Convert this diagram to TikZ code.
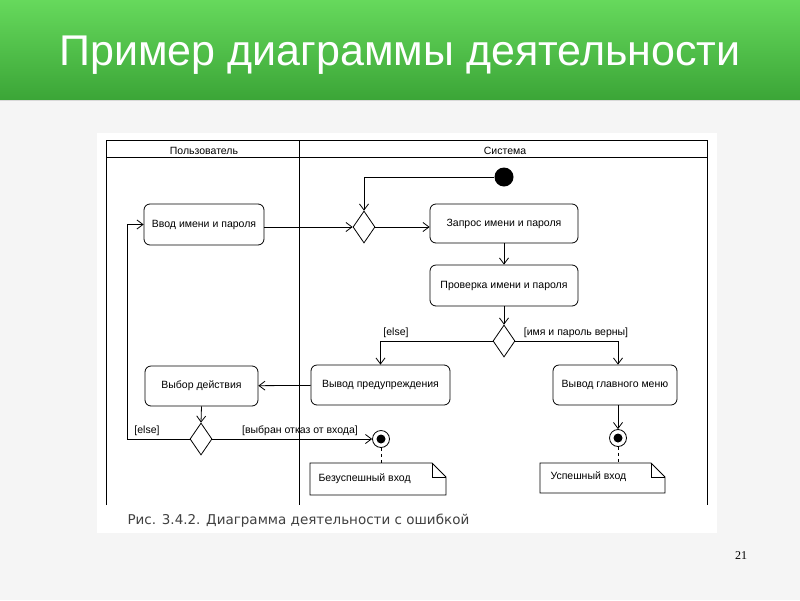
\documentclass[tikz,border=0pt]{standalone}
\usepackage{fontspec}
\setmainfont{Liberation Sans}
\newfontfamily\dvfont{DejaVu Sans}
\newfontfamily\serfont{Liberation Serif}
\usetikzlibrary{shapes.geometric,arrows.meta}
\definecolor{gtop}{HTML}{66D95C}
\definecolor{gbot}{HTML}{3BA537}
\begin{document}
\begin{tikzpicture}[x=1pt,y=-1pt,
  act/.style={draw,rounded corners=6pt,line width=0.8pt,font=\fontsize{10.5}{12}\selectfont,inner sep=0pt},
  dec/.style={draw,diamond,line width=0.8pt,minimum width=22pt,minimum height=32pt,inner sep=0pt,aspect=0.7},
  fl/.style={line width=0.8pt,-{Straight Barb[length=6pt,width=9pt]}},
  lbl/.style={font=\fontsize{10.5}{12}\selectfont},
  lane/.style={line width=0.8pt},
  note/.style={fill=white,line width=0.8pt}]
\useasboundingbox (0,0) rectangle (800,600);
\fill[gray!8] (0,0) rectangle (800,600);
\shade[top color=gtop,bottom color=gbot] (0,0) rectangle (800,100);
\draw[white!85!black,line width=1pt] (0,100.5) -- (800,100.5);
\node[white,font=\fontsize{43}{48}\selectfont] (title) at (400,55) {Пример диаграммы деятельности};
\fill[white] (97,133) rectangle (717,533);
% lanes
\draw[lane] (106,505) -- (106,140) -- (707,140) -- (707,505);
\draw[lane] (106,157) -- (707,157);
\draw[lane] (299,140) -- (299,505);
\node[lbl] (l1) at (204,151) {Пользователь};
\node[lbl] (l2) at (505,151) {Система};
% nodes
\node[circle,fill=black,minimum size=19pt,inner sep=0pt] (init) at (504,177) {};
\node[dec] (d1) at (364,227) {};
\node[act,minimum width=120pt,minimum height=41pt] (a1) at (204,224.5) {Ввод имени и пароля};
\node[act,minimum width=148pt,minimum height=39pt] (a2) at (504,223.5) {Запрос имени и пароля};
\node[act,minimum width=148pt,minimum height=41pt] (a3) at (504,285.5) {Проверка имени и пароля};
\node[dec] (d2) at (504,341) {};
\node[act,minimum width=139pt,minimum height=40pt] (a4) at (380.5,385) {Вывод предупреждения};
\node[act,minimum width=124pt,minimum height=40pt] (a5) at (615,385) {Вывод главного меню};
\node[act,minimum width=113pt,minimum height=40pt] (a6) at (201.5,386) {Выбор действия};
\node[dec] (d3) at (201,439) {};
\node[circle,draw,line width=0.8pt,minimum size=17pt,inner sep=0pt] (f1) at (381,439) {};
\fill (f1) circle (4.5pt);
\node[circle,draw,line width=0.8pt,minimum size=17pt,inner sep=0pt] (f2) at (618,438) {};
\fill (f2) circle (4.5pt);
\draw[note] (310,463) -- (432,463) -- (446,477) -- (446,495) -- (310,495) -- cycle;
\draw[line width=0.8pt] (432,463) -- (432,477) -- (446,477);
\node[lbl,anchor=west] (t1) at (315,479) {Безуспешный вход};
\draw[note] (540,463) -- (651,463) -- (665,477) -- (665,493) -- (540,493) -- cycle;
\draw[line width=0.8pt] (651,463) -- (651,477) -- (665,477);
\node[lbl,anchor=west] (t2) at (547,477) {Успешный вход};
\coordinate (n1t) at (381,463);
\coordinate (n2t) at (618,463);
% flows
\draw[fl] (init.west) -| (d1.north);
\draw[fl] (a1.east |- d1) -- (d1.west);
\draw[fl] (d1.east) -- (d1.east -| a2.west);
\draw[fl] (a2) -- (a3);
\draw[fl] (a3) -- (d2);
\draw[fl] (d2.west) -| (a4.north);
\draw[fl] (d2.east) -| (a5.north -| f2);
\draw[fl] (a4) -- (a6);
\draw[fl] (a6.south) -- (d3.north);
\draw[fl] (d3.west) -| (127,224.5) -- (a1.west);
\draw[fl] (d3.east) -- (f1.west);
\draw[fl] (a5.south -| f2) -- (f2.north);
\draw[line width=0.8pt,dashed] (f1.south) -- (n1t);
\draw[line width=0.8pt,dashed] (f2.south) -- (n2t);
\node[lbl] (e1) at (396,333) {[else]};
\node[lbl] (e2) at (576,333) {[имя и пароль верны]};
\node[lbl] (e3) at (147,431) {[else]};
\node[lbl] (e4) at (300,431) {[выбран отказ от входа]};
\node[anchor=west,text=black!75,font=\dvfont\fontsize{13.5}{15}\selectfont] (cap) at (124,521) {Рис. 3.4.2. Диаграмма деятельности с ошибкой};
\node[font=\serfont\fontsize{12}{14}\selectfont] (pg) at (741,556) {21};
\end{tikzpicture}
\end{document}
